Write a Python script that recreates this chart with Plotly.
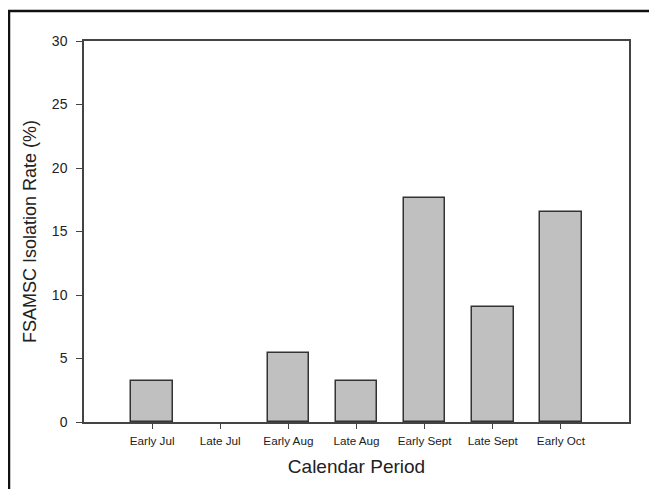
import plotly.graph_objects as go

categories = ["Early Jul", "Late Jul", "Early Aug", "Late Aug", "Early Sept", "Late Sept", "Early Oct"]
rates = [3.2, 0, 5.4, 3.2, 17.6, 9.05, 16.55]
y_ticks = [0, 5, 10, 15, 20, 25, 30]

# the page body adds an 8px offset, so the figure is sized to the remaining window
OFF = 8
W, H = 657 - OFF, 489 - OFF
L, R, T, B = 84 - OFF, 28, 41 - OFF, 67

fig = go.Figure()
fig.add_trace(go.Bar(
    x=list(range(len(categories))), y=rates,
    width=0.61,
    marker=dict(color="#c0c0c0",
                line=dict(color="#333333", width=[1.5 if v > 0 else 0 for v in rates])),
    hoverinfo="skip",
))

axis_font = dict(family="Liberation Sans, Arial, sans-serif", color="#222222")

fig.update_layout(
    width=W, height=H,
    margin=dict(l=L, r=R, t=T, b=B, pad=0),
    paper_bgcolor="white", plot_bgcolor="white",
    showlegend=False,
    bargap=0,
    xaxis=dict(
        range=[-1, len(categories)],
        automargin=False,
        tickmode="array",
        tickvals=list(range(len(categories))),
        ticktext=categories,
        ticks="outside", ticklen=5, tickwidth=1.2, tickcolor="#444444",
        ticklabelstandoff=2,
        showline=True, linecolor="#444444", linewidth=1.5, mirror=True,
        showgrid=False, zeroline=False,
        tickfont=dict(size=11.7, **axis_font),
        title=dict(text="Calendar Period", font=dict(size=19, **axis_font), standoff=14),
    ),
    yaxis=dict(
        range=[0, 30],
        automargin=False,
        tickmode="array", tickvals=y_ticks,
        ticks="outside", ticklen=6, tickwidth=1.2, tickcolor="#444444",
        ticklabelstandoff=6,
        showline=True, linecolor="#444444", linewidth=1.5, mirror=True,
        showgrid=False, zeroline=False,
        tickfont=dict(size=14, **axis_font),
        title=dict(text="FSAMSC Isolation Rate (%)", font=dict(size=18, **axis_font), standoff=11),
    ),
    shapes=[dict(
        type="rect", xref="paper", yref="paper",
        x0=(1 - L) / (W - L - R), x1=2.0,
        y0=-1.0, y1=(H - B - 3) / (H - B - T),
        line=dict(color="#111111", width=2.5),
        fillcolor="rgba(0,0,0,0)", layer="below",
    )],
)

fig.write_html("out.html")
